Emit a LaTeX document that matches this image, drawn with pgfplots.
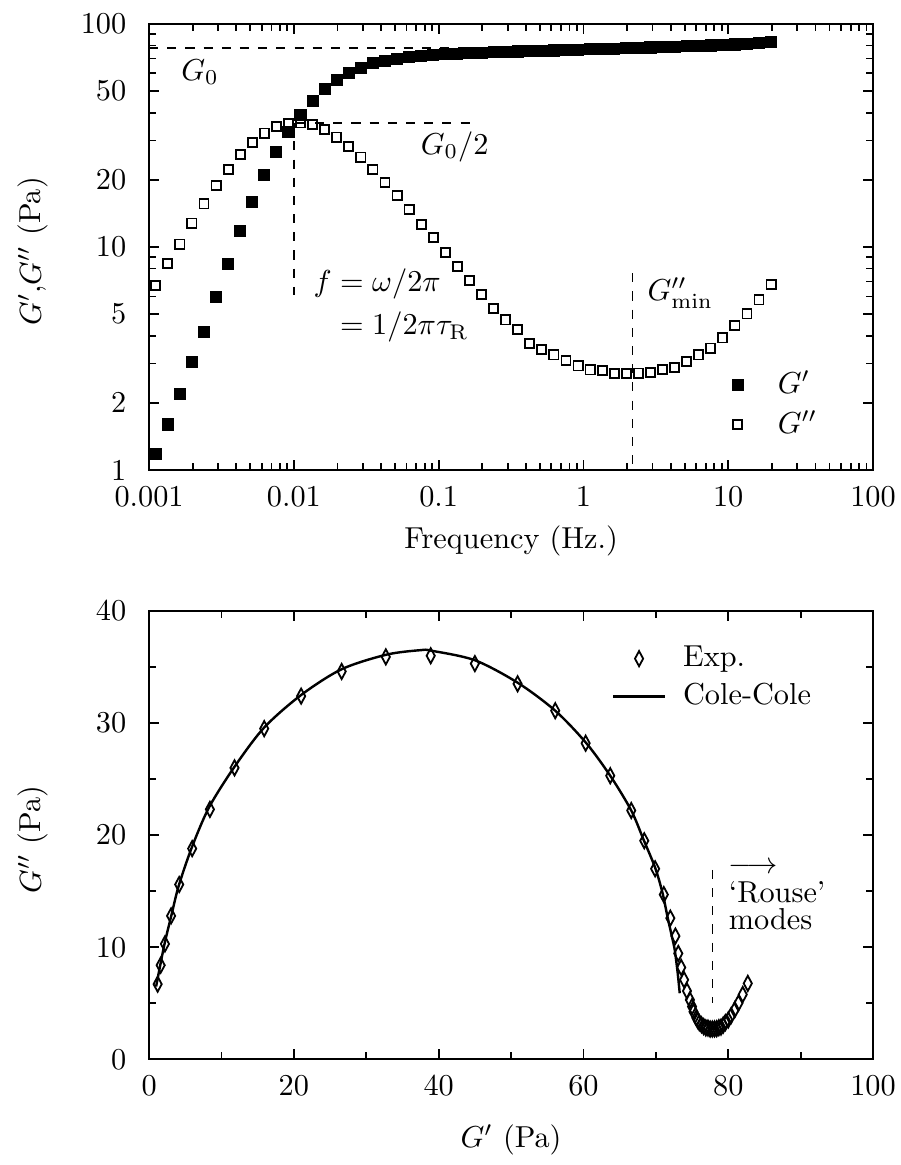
\documentclass[border=0pt]{standalone}
\usepackage{pgfplots}
\usepackage{pgfplotstable}
\pgfplotsset{compat=1.18}

\pgfplotstableread{
f G1 G2
0.00111 1.18 6.71
0.001346 1.60 8.40
0.001632 2.19 10.3
0.001977 3.04 12.8
0.002395 4.16 15.6
0.002902 5.95 18.8
0.003516 8.40 22.3
0.004260 11.8 26.0
0.005161 15.9 29.5
0.006252 21.0 32.4
0.007575 26.6 34.6
0.009177 32.7 35.9
0.01112 38.9 36.0
0.01347 45.0 35.3
0.01632 50.9 33.5
0.01977 56.1 31.1
0.02395 60.3 28.2
0.02902 63.7 25.3
0.03516 66.6 22.2
0.04260 68.4 19.5
0.05161 69.9 17.0
0.06252 71.1 14.7
0.07575 72.0 12.6
0.09177 72.7 11.0
0.1112 73.1 9.45
0.1347 73.5 8.2
0.1632 73.9 7.1
0.1977 74.3 6.10
0.2395 74.7 5.31
0.2902 75.0 4.71
0.3516 75.2 4.25
0.4260 75.6 3.70
0.5161 75.8 3.46
0.6252 76.0 3.28
0.7575 76.3 3.09
0.9177 76.6 2.93
1.112 76.9 2.81
1.347 77.2 2.79
1.632 77.5 2.71
1.977 77.8 2.71
2.395 78.1 2.72
2.902 78.4 2.74
3.516 78.7 2.83
4.260 79.0 2.88
5.161 79.3 3.06
6.252 79.6 3.28
7.575 80.0 3.52
9.177 80.4 3.91
11.12 80.9 4.44
13.47 81.4 5.01
16.32 82.0 5.79
19.77 82.7 6.78
}\rheo

\pgfplotstableread{
x y
0.97 6.5
1.6 8.6
2.2 10.5
3.1 12.9
4.1 15.5
5.9 18.9
8.3 22.5
11.8 26.1
15.9 29.6
21.0 32.5
26.6 34.8
32.8 36.1
37.5 36.5
39.0 36.45
45.0 35.6
50.9 33.6
56.1 31.1
60.4 28.2
63.8 25.2
66.6 22.2
68.3 19.6
69.9 17.1
70.9 14.9
71.6 12.75
72.2 11.0
72.6 9.8
73.0 7.8
73.3 5.9
}\colecole

\pgfplotsset{
  common/.style={
    scale only axis,
    width=238.9pt,
    axis line style={line width=0.7pt},
    tick style={black, line width=0.6pt},
    major tick length=3.3pt,
    minor tick length=2.3pt,
    yticklabel style={xshift=-4pt},
    xticklabel style={yshift=-2pt},
    every axis y label/.style={at={(axis description cs:-0.16,0.49)}, rotate=90, anchor=center},
    legend cell align=left,
  },
}

\begin{document}
\begin{tikzpicture}
\path[use as bounding box] (-49.2pt,-229.35pt) rectangle (247.8pt,155.1pt);

% ---------- top panel ----------
\begin{axis}[
  common,
  at={(0pt,0pt)}, anchor=south west,
  height=147.2pt,
  xmode=log, ymode=log,
  xmin=0.001, xmax=100, ymin=1, ymax=100,
  xtick={0.001,0.01,0.1,1,10,100},
  xticklabels={0.001,0.01,0.1,1,10,100},
  ytick={1,2,5,10,20,50,100},
  yticklabels={1,2,5,10,20,50,100},
  minor xtick={0.002,0.003,0.004,0.005,0.006,0.007,0.008,0.009,
               0.02,0.03,0.04,0.05,0.06,0.07,0.08,0.09,
               0.2,0.3,0.4,0.5,0.6,0.7,0.8,0.9,
               2,3,4,5,6,7,8,9,20,30,40,50,60,70,80,90},
  minor ytick={3,4,6,7,8,9,30,40,60,70,80,90},
  xlabel={Frequency (Hz.)},
  ylabel={$G'$,$G''$ (Pa)},
  every axis x label/.style={at={(axis description cs:0.5,-0.16)}, anchor=center},
  legend style={draw=none, fill=none, at={(axis description cs:0.792,0.25)}, anchor=north west, row sep=0pt, column sep=9.5pt},
]
\addplot[forget plot, dashed, line width=0.5pt] coordinates {(0.001,78) (2.2,78)};
\addplot[forget plot, dashed, line width=0.5pt] coordinates {(0.0105,35.9) (0.173,35.9)};
\addplot[forget plot, dashed, line width=0.5pt] coordinates {(0.01,35.9) (0.01,6.09)};
\addplot[forget plot, dashed, line width=0.5pt] coordinates {(2.18,7.62) (2.18,1)};
\addplot[only marks, mark=square*, mark size=1.8pt, black] table[x=f, y=G1] {\rheo};
\addlegendentry{$G'$}
\addplot[only marks, mark=square, mark size=1.5pt, mark options={line width=0.6pt, fill=white}, black] table[x=f, y=G2] {\rheo};
\addlegendentry{$G''$}
\node at (axis cs:0.00225,60.9) {$G_0$};
\node at (axis cs:0.129,28.2) {$G_0/2$};
\node[anchor=base west, inner sep=0pt] at (axis cs:0.01358,6.3) {$f = \omega/2\pi$};
\node[anchor=base west, inner sep=0pt] at (axis cs:0.01358,4.03) {$\phantom{f} = 1/2\pi\tau_{\mathrm{R}}$};
\node[anchor=west] at (axis cs:2.34,6.2) {$G''_{\mathrm{min}}$};
\end{axis}

% ---------- bottom panel ----------
\begin{axis}[
  common,
  at={(0pt,-194.5pt)}, anchor=south west,
  height=148pt,
  xmin=0, xmax=100, ymin=0, ymax=40,
  xtick={0,20,40,60,80,100},
  ytick={0,10,20,30,40},
  minor xtick={10,30,50,70,90},
  minor ytick={5,15,25,35},
  xlabel={$G'$ (Pa)},
  ylabel={$G''$ (Pa)},
  every axis x label/.style={at={(axis description cs:0.5,-0.18)}, anchor=center},
  legend style={draw=none, fill=none, at={(axis description cs:0.626,0.95)}, anchor=north west, row sep=0pt, column sep=3.6pt},
]
\addplot[only marks, mark=diamond, mark size=2.5pt, mark options={xscale=0.72, line width=0.6pt}, black] table[x=G1, y=G2] {\rheo};
\addlegendentry{Exp.}
\addplot[smooth, line width=0.8pt, black] table[x=x, y=y] {\colecole};
\addlegendentry{Cole-Cole}
\addplot[forget plot, dashed, line width=0.5pt] coordinates {(77.8,16.9) (77.8,5.0)};
\node[anchor=west, inner sep=0pt] at (axis cs:80.0,17.1) {$\longrightarrow$};
\node[anchor=base west, inner sep=0pt] at (axis cs:80.0,14.0) {`Rouse'};
\node[anchor=base west, inner sep=0pt] at (axis cs:80.0,11.56) {modes};
\end{axis}
\end{tikzpicture}
\end{document}
